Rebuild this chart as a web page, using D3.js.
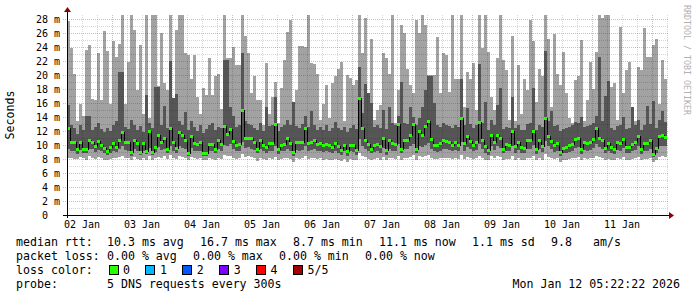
<!DOCTYPE html>
<html>
<head>
<meta charset="utf-8">
<script src="https://cdn.jsdelivr.net/npm/d3@7"></script>
<style>
html, body { margin: 0; padding: 0; background: #fff; }
svg { display: block; }
text { font-family: "DejaVu Sans Mono", monospace; fill: #000; }
</style>
</head>
<body>
<div id="chart"></div>
<script>
// one sample every 72 minutes, 200 samples, values in ms
const startTime = Date.UTC(2026, 0, 2, 6);
const endTime = Date.UTC(2026, 0, 12, 6);
const stepMinutes = 72;

// slowest of the 5 pings
const rttMax = [
  27.7, 23.8, 20.1, 13.4, 15.9, 14.2, 23.6, 24.3, 16.6, 16.4, 23.2, 16.4, 26.3, 23.4, 15.9, 24.9, 22.6, 24.4, 28.6, 15.9,
  21.9, 28.6, 26.5, 17.9, 24.3, 14.5, 28.6, 13.8, 28.6, 28.6, 18.4, 26.0, 18.9, 17.9, 28.6, 15.0, 26.5, 28.6, 28.6, 23.1,
  22.9, 19.5, 22.9, 16.9, 14.4, 18.1, 17.1, 22.4, 17.1, 19.9, 20.2, 15.2, 28.6, 22.4, 22.4, 24.0, 21.4, 21.4, 28.6, 25.6,
  23.1, 17.4, 19.8, 16.4, 16.4, 12.8, 21.7, 14.5, 16.9, 19.0, 13.2, 18.2, 22.2, 26.2, 27.8, 14.0, 17.9, 24.1, 24.1, 24.0,
  28.6, 21.7, 21.6, 20.2, 13.6, 15.9, 18.6, 13.8, 18.9, 19.8, 20.8, 21.9, 13.5, 20.0, 19.6, 18.6, 19.3, 28.6, 23.1, 28.1,
  13.9, 25.1, 13.6, 15.0, 15.7, 23.1, 22.4, 20.2, 28.6, 13.2, 17.9, 27.1, 26.0, 20.9, 18.6, 17.5, 27.9, 26.0, 28.6, 27.1,
  20.0, 20.0, 20.0, 25.5, 17.5, 23.2, 22.9, 17.6, 28.6, 19.5, 19.5, 28.6, 15.5, 20.5, 19.5, 21.7, 15.0, 28.6, 23.8, 28.6,
  23.3, 16.9, 15.0, 22.4, 28.6, 22.1, 20.7, 13.6, 25.6, 13.4, 21.4, 14.5, 19.5, 17.9, 27.9, 24.9, 16.1, 20.9, 19.9, 28.6,
  25.1, 15.5, 25.9, 20.1, 18.6, 23.3, 17.4, 13.9, 13.2, 19.3, 19.8, 25.0, 13.5, 16.4, 21.9, 18.0, 23.3, 28.6, 28.1, 28.6,
  28.6, 18.3, 18.9, 13.6, 26.9, 17.5, 20.7, 21.9, 14.5, 13.4, 21.2, 20.7, 26.7, 22.6, 22.6, 24.3, 25.2, 15.9, 22.2, 19.5
];
// 4th of 5 pings
const rttP4 = [
  15.7, 12.8, 12.4, 11.6, 12.9, 12.2, 14.2, 14.2, 12.1, 12.6, 13.1, 12.3, 11.9, 12.4, 12.0, 12.8, 13.5, 20.4, 20.4, 12.6,
  12.3, 13.6, 12.9, 12.1, 12.7, 11.8, 17.2, 13.2, 12.4, 18.3, 18.3, 12.9, 15.6, 12.5, 22.0, 16.7, 17.3, 13.5, 12.8, 14.7,
  12.2, 13.4, 12.6, 12.0, 12.8, 11.7, 12.3, 12.9, 13.1, 12.2, 12.6, 12.4, 22.1, 22.1, 15.4, 14.2, 12.6, 12.9, 23.2, 13.4,
  13.0, 12.8, 12.5, 12.1, 13.2, 12.0, 15.5, 12.7, 12.9, 16.9, 12.0, 12.6, 12.8, 13.6, 12.9, 16.2, 12.7, 12.4, 13.0, 14.1,
  12.6, 14.8, 12.9, 12.2, 12.6, 12.1, 12.8, 12.0, 12.4, 13.3, 12.5, 12.2, 12.6, 11.9, 12.4, 12.9, 12.3, 21.2, 14.6, 18.7,
  17.4, 16.0, 12.6, 12.8, 12.4, 15.0, 12.3, 15.5, 13.1, 12.8, 14.2, 19.0, 13.2, 13.0, 15.5, 14.0, 12.9, 13.8, 15.5, 17.9,
  19.8, 19.8, 16.0, 12.8, 12.6, 13.1, 12.9, 12.7, 12.4, 12.8, 12.6, 19.4, 12.9, 15.3, 13.0, 12.4, 12.8, 21.6, 13.2, 16.1,
  12.1, 13.6, 12.8, 15.7, 18.1, 12.3, 12.6, 12.4, 16.8, 12.5, 12.9, 12.2, 12.1, 13.0, 13.2, 18.2, 12.2, 12.9, 12.6, 23.4,
  13.5, 14.9, 12.7, 12.8, 12.0, 12.3, 12.5, 12.6, 12.9, 13.3, 13.2, 14.0, 12.6, 12.7, 12.8, 13.1, 14.2, 22.6, 13.4, 17.0,
  19.1, 12.4, 12.1, 12.7, 12.8, 14.0, 12.3, 12.5, 15.5, 12.8, 13.6, 12.2, 12.8, 15.6, 13.0, 16.3, 12.4, 13.6, 14.8, 13.3
];
// median ping
const rttMedian = [
  12.4, 10.3, 10.4, 9.3, 10.4, 9.3, 9.3, 10.6, 10.3, 9.8, 10.5, 10.0, 9.5, 9.1, 9.6, 10.2, 9.7, 10.7, 11.8, 10.3,
  10.3, 8.9, 10.7, 10.2, 9.0, 10.2, 9.1, 12.0, 9.0, 9.7, 11.4, 10.4, 10.9, 9.4, 12.4, 10.3, 9.5, 11.8, 11.3, 10.7,
  8.8, 11.2, 10.2, 10.1, 10.3, 8.8, 8.8, 10.1, 10.1, 9.4, 10.6, 10.1, 12.7, 11.5, 12.2, 10.5, 10.0, 10.1, 15.0, 11.0,
  11.0, 10.9, 10.4, 9.4, 10.7, 10.0, 9.7, 10.2, 10.2, 12.9, 9.3, 10.0, 10.1, 10.9, 10.2, 8.9, 10.4, 10.3, 10.3, 12.4,
  10.2, 10.3, 10.7, 10.1, 10.2, 9.9, 10.1, 9.9, 9.7, 10.2, 9.8, 9.2, 10.0, 9.1, 10.0, 9.9, 9.2, 16.7, 12.4, 10.7,
  10.1, 9.4, 9.9, 10.1, 9.8, 11.0, 9.2, 10.6, 10.2, 10.1, 12.9, 9.4, 10.6, 10.6, 11.3, 13.0, 9.4, 12.0, 11.3, 12.7,
  13.3, 10.8, 10.0, 9.9, 10.2, 10.7, 10.5, 10.3, 10.0, 10.3, 10.0, 13.8, 10.2, 11.2, 10.5, 10.0, 10.3, 13.2, 10.6, 9.8,
  9.2, 11.3, 10.3, 11.4, 11.0, 9.4, 10.1, 10.0, 12.0, 9.8, 10.3, 9.7, 9.5, 10.6, 10.6, 12.0, 9.3, 10.6, 9.8, 13.8,
  11.2, 10.5, 9.9, 10.2, 8.9, 9.5, 9.7, 9.9, 10.1, 10.8, 11.0, 9.3, 10.3, 10.2, 10.3, 10.8, 12.3, 11.0, 10.6, 9.5,
  10.2, 9.7, 9.3, 10.3, 10.2, 10.8, 9.7, 9.7, 10.1, 10.3, 11.2, 9.3, 10.2, 10.2, 10.6, 8.7, 9.5, 11.2, 11.3, 11.1
];
// 2nd of 5 pings
const rttP2 = [
  9.4, 9.2, 9.1, 8.7, 9.3, 8.8, 8.9, 9.5, 9.4, 9.0, 9.3, 9.1, 8.9, 8.6, 8.9, 9.2, 9.0, 9.4, 9.8, 9.3,
  9.2, 8.5, 9.4, 9.2, 8.6, 9.1, 8.7, 9.6, 8.6, 9.0, 9.7, 9.3, 9.5, 8.8, 9.9, 9.2, 8.9, 9.8, 9.6, 9.4,
  8.4, 9.6, 9.2, 9.1, 9.2, 8.4, 8.5, 9.2, 9.1, 8.8, 9.4, 9.1, 10.0, 9.8, 10.1, 9.4, 9.1, 9.2, 10.4, 9.6,
  9.7, 9.5, 9.3, 8.8, 9.5, 9.1, 8.9, 9.2, 9.1, 9.9, 8.7, 9.1, 9.2, 9.5, 9.2, 8.4, 9.3, 9.2, 9.3, 9.8,
  9.2, 9.3, 9.5, 9.1, 9.2, 9.0, 9.1, 9.0, 8.9, 9.2, 8.9, 8.6, 9.1, 8.5, 9.1, 9.0, 8.6, 10.9, 9.9, 9.5,
  9.1, 8.8, 9.0, 9.2, 8.9, 9.6, 8.6, 9.4, 9.2, 9.1, 10.1, 8.8, 9.4, 9.5, 9.8, 10.2, 8.8, 9.9, 9.7, 10.0,
  10.3, 9.5, 9.1, 9.0, 9.2, 9.5, 9.4, 9.3, 9.1, 9.3, 9.1, 10.4, 9.2, 9.7, 9.4, 9.1, 9.3, 10.2, 9.5, 8.9,
  8.6, 9.8, 9.3, 9.9, 9.6, 8.8, 9.2, 9.1, 9.9, 8.9, 9.3, 8.9, 8.8, 9.5, 9.5, 10.0, 8.7, 9.5, 9.0, 10.6,
  9.8, 9.4, 9.0, 9.2, 8.4, 8.8, 8.9, 9.0, 9.2, 9.6, 9.7, 8.7, 9.3, 9.2, 9.3, 9.6, 10.1, 9.7, 9.5, 8.8,
  9.2, 8.9, 8.7, 9.3, 9.2, 9.6, 8.9, 8.9, 9.2, 9.3, 9.8, 8.7, 9.2, 9.2, 9.5, 8.3, 8.8, 9.8, 9.9, 9.8
];
// fastest of the 5 pings
const rttMin = [
  8.1, 8.2, 8.0, 8.0, 8.3, 8.1, 7.9, 8.4, 8.2, 8.0, 8.3, 8.1, 7.9, 7.9, 8.0, 8.2, 8.1, 8.3, 8.5, 8.2,
  8.1, 7.8, 8.3, 8.0, 7.9, 8.1, 7.9, 8.4, 7.9, 8.1, 8.3, 8.2, 8.4, 8.0, 8.6, 8.1, 8.0, 8.5, 8.3, 8.2,
  7.9, 8.3, 8.1, 8.0, 8.2, 7.9, 7.9, 8.1, 8.0, 7.9, 8.2, 8.0, 8.6, 8.4, 8.5, 8.2, 8.0, 8.1, 8.7, 8.3,
  8.4, 8.3, 8.1, 7.7, 8.2, 8.0, 7.8, 8.1, 8.0, 8.3, 7.8, 8.0, 8.1, 8.2, 8.0, 7.6, 8.1, 8.0, 8.1, 8.4,
  8.0, 8.1, 8.2, 8.0, 8.1, 7.9, 8.0, 7.9, 7.8, 8.0, 7.9, 7.7, 8.0, 7.6, 8.0, 7.9, 7.8, 8.8, 8.4, 8.3,
  8.0, 7.9, 8.0, 8.1, 7.9, 8.3, 7.8, 8.2, 8.1, 8.0, 8.5, 7.9, 8.2, 8.2, 8.3, 8.6, 7.9, 8.4, 8.3, 8.5,
  8.6, 8.2, 8.0, 8.0, 8.1, 8.2, 8.2, 8.1, 8.0, 8.1, 8.0, 8.6, 8.0, 8.3, 8.2, 8.0, 8.1, 8.5, 8.2, 7.9,
  7.8, 8.4, 8.1, 8.4, 8.3, 7.9, 8.0, 8.0, 8.4, 7.9, 8.1, 7.9, 7.9, 8.2, 8.2, 8.5, 7.8, 8.2, 7.9, 8.7,
  8.3, 8.2, 8.0, 8.1, 7.6, 7.9, 7.9, 8.0, 8.1, 8.2, 8.3, 7.8, 8.1, 8.0, 8.1, 8.2, 8.5, 8.3, 8.2, 7.9,
  8.0, 7.9, 7.8, 8.1, 8.0, 8.3, 7.9, 7.9, 8.0, 8.1, 8.3, 7.8, 8.0, 8.0, 8.2, 7.6, 7.9, 8.3, 8.4, 8.3
];

const statRtt = ["median rtt:", "10.3 ms avg", "16.7 ms max", "8.7 ms min", "11.1 ms now", "1.1 ms sd", "9.8", "am/s"];
const statLoss = ["packet loss:", "0.00 % avg", "0.00 % max", "0.00 % min", "0.00 % now"];
const lossLabels = ["0", "1", "2", "3", "4", "5/5"];
const lossColors = ["#26ff00", "#00b8ff", "#0059ff", "#7e00ff", "#ff0000", "#a10000"];
const probeText = ["probe:", "5 DNS requests every 300s"];
const stampText = "Mon Jan 12 05:22:22 2026";

const W = 697, H = 297;
const plotL = 67, plotR = 667, plotT = 15, plotB = 215;

const svg = d3.select("#chart").append("svg")
    .attr("width", W)
    .attr("height", H);

const x = d3.scaleUtc().domain([new Date(startTime), new Date(endTime)]).range([plotL, plotR]);
const y = d3.scaleLinear().domain([0, 200 / 7]).range([plotB, plotT]);
const yMax = y.domain()[1];

const samples = rttMedian.map((m, i) => ({
    t0: d3.utcMinute.offset(new Date(startTime), i * stepMinutes),
    t1: d3.utcMinute.offset(new Date(startTime), (i + 1) * stepMinutes),
    min: rttMin[i], p2: rttP2[i], med: m, p4: rttP4[i], max: Math.min(rttMax[i], yMax)
}));

// smoke: outer band (min..max) then inner band (p2..p4)
const smoke = svg.append("g").attr("shape-rendering", "crispEdges");
smoke.selectAll(".outer").data(samples).join("rect")
    .attr("class", "outer")
    .attr("x", d => x(d.t0))
    .attr("width", d => x(d.t1) - x(d.t0))
    .attr("y", d => y(d.max))
    .attr("height", d => y(d.min) - y(d.max))
    .attr("fill", "#a2a2a2");
smoke.selectAll(".inner").data(samples).join("rect")
    .attr("class", "inner")
    .attr("x", d => x(d.t0))
    .attr("width", d => x(d.t1) - x(d.t0))
    .attr("y", d => y(d.p4))
    .attr("height", d => y(d.p2) - y(d.p4))
    .attr("fill", "#565656");

// grid on top of the smoke, like rrdtool
const grid = svg.append("g").attr("shape-rendering", "crispEdges");
const yMinor = d3.range(1, 29, 2);
const yMajor = d3.range(2, 29, 2);
const xMinor = d3.utcHour.every(6).range(new Date(startTime), new Date(endTime + 1))
    .filter(d => d.getUTCHours() !== 0);
const xMajor = d3.utcDay.range(new Date(startTime), new Date(endTime + 1));

grid.selectAll(".hmin").data(yMinor).join("line")
    .attr("x1", plotL).attr("x2", plotR + 1)
    .attr("y1", d => Math.round(y(d)) + 0.5).attr("y2", d => Math.round(y(d)) + 0.5)
    .attr("stroke", "rgba(0,0,0,0.16)").attr("stroke-dasharray", "1,1");
grid.selectAll(".vmin").data(xMinor).join("line")
    .attr("x1", d => Math.round(x(d)) + 0.5).attr("x2", d => Math.round(x(d)) + 0.5)
    .attr("y1", plotT).attr("y2", plotB)
    .attr("stroke", "rgba(0,0,0,0.16)").attr("stroke-dasharray", "1,1");
grid.selectAll(".hmaj").data(yMajor).join("line")
    .attr("x1", plotL - 4).attr("x2", plotR + 1)
    .attr("y1", d => Math.round(y(d)) + 0.5).attr("y2", d => Math.round(y(d)) + 0.5)
    .attr("stroke", "rgba(230,0,0,0.32)").attr("stroke-dasharray", "1,1");
grid.selectAll(".vmaj").data(xMajor).join("line")
    .attr("x1", d => Math.round(x(d)) + 0.5).attr("x2", d => Math.round(x(d)) + 0.5)
    .attr("y1", plotT).attr("y2", plotB + 3)
    .attr("stroke", "rgba(230,0,0,0.32)").attr("stroke-dasharray", "1,1");

// median: black step line, then green loss-colour segments
const stepLine = d3.line()
    .x(d => x(d.t))
    .y(d => y(d.v))
    .curve(d3.curveStepAfter);
const stepPts = samples.map(d => ({ t: d.t0, v: d.med }))
    .concat([{ t: samples[samples.length - 1].t1, v: samples[samples.length - 1].med }]);
svg.append("path")
    .attr("d", stepLine(stepPts))
    .attr("fill", "none")
    .attr("stroke", "#000")
    .attr("stroke-width", 1)
    .attr("shape-rendering", "crispEdges");
svg.append("g").attr("shape-rendering", "crispEdges")
    .selectAll("line").data(samples).join("line")
    .attr("x1", d => x(d.t0)).attr("x2", d => x(d.t1))
    .attr("y1", d => y(d.med)).attr("y2", d => y(d.med))
    .attr("stroke", lossColors[0])
    .attr("stroke-width", 3);

// axes
const axes = svg.append("g").attr("shape-rendering", "crispEdges");
axes.append("line")
    .attr("x1", plotL - 4).attr("x2", plotR + 2)
    .attr("y1", plotB + 0.5).attr("y2", plotB + 0.5)
    .attr("stroke", "#000");
axes.append("line")
    .attr("x1", plotL + 0.5).attr("x2", plotL + 0.5)
    .attr("y1", plotB + 3).attr("y2", plotT - 3)
    .attr("stroke", "#000");
svg.append("path")
    .attr("d", `M${plotR + 2},${plotB - 3} L${plotR + 7},${plotB + 0.5} L${plotR + 2},${plotB + 4} Z`)
    .attr("fill", "#8b0000");
svg.append("path")
    .attr("d", `M${plotL - 3},${plotT - 3} L${plotL + 0.5},${plotT - 8} L${plotL + 4},${plotT - 3} Z`)
    .attr("fill", "#8b0000");

// y labels
const yLabels = d3.range(0, 29, 2);
svg.selectAll(".ylab").data(yLabels).join("text")
    .attr("x", d => d === 0 ? 48 : 60)
    .attr("y", d => y(d))
    .attr("dy", "0.36em")
    .attr("text-anchor", "end")
    .attr("font-size", 10)
    .text(d => d === 0 ? "0" : `${d} m`);

// x labels centred at noon
const fmtDay = d3.utcFormat("%d %b");
const noons = d3.utcDay.range(new Date(Date.UTC(2026, 0, 2)), new Date(Date.UTC(2026, 0, 12)))
    .map(d => d3.utcHour.offset(d, 12));
svg.selectAll(".xlab").data(noons).join("text")
    .attr("x", d => x(d))
    .attr("y", 228)
    .attr("text-anchor", "middle")
    .attr("font-size", 10)
    .text(d => fmtDay(d));

svg.append("text")
    .attr("transform", `translate(14,${(plotT + plotB) / 2}) rotate(-90)`)
    .attr("text-anchor", "middle")
    .attr("font-size", 11.6)
    .text("Seconds");

svg.append("text")
    .attr("transform", "translate(684,5) rotate(90)")
    .attr("font-size", 8.3)
    .style("fill", "#b0b0b0")
    .text("RRDTOOL / TOBI OETIKER");

// legend
const legendFont = 11.6;
const rttCols = [16, 107, 200, 293, 379, 472, 551, 593];
const lossCols = [16, 107, 193, 279, 365];
svg.selectAll(".lg1").data(statRtt).join("text")
    .attr("class", "lg1")
    .attr("x", (d, i) => rttCols[i]).attr("y", 245.5)
    .attr("font-size", legendFont).text(d => d);
svg.selectAll(".lg2").data(statLoss).join("text")
    .attr("class", "lg2")
    .attr("x", (d, i) => lossCols[i]).attr("y", 259.5)
    .attr("font-size", legendFont).text(d => d);
svg.append("text")
    .attr("x", 16).attr("y", 273.5)
    .attr("font-size", legendFont).text("loss color:");
const box = svg.selectAll(".lc").data(lossLabels).join("g")
    .attr("class", "lc")
    .attr("transform", (d, i) => `translate(${108.5 + i * 36.9},265)`);
box.append("rect")
    .attr("x", 0.5).attr("y", 0.5).attr("width", 9).attr("height", 9)
    .attr("fill", (d, i) => lossColors[i])
    .attr("stroke", "#000")
    .attr("shape-rendering", "crispEdges");
box.append("text")
    .attr("x", 14.5).attr("y", 8.5)
    .attr("font-size", legendFont).text(d => d);
svg.append("text")
    .attr("x", 16).attr("y", 287.5)
    .attr("font-size", legendFont).text(probeText[0]);
svg.append("text")
    .attr("x", 107).attr("y", 287.5)
    .attr("font-size", legendFont).text(probeText[1]);
svg.append("text")
    .attr("x", 512.5).attr("y", 287.5)
    .attr("font-size", legendFont).text(stampText);
</script>
</body>
</html>
